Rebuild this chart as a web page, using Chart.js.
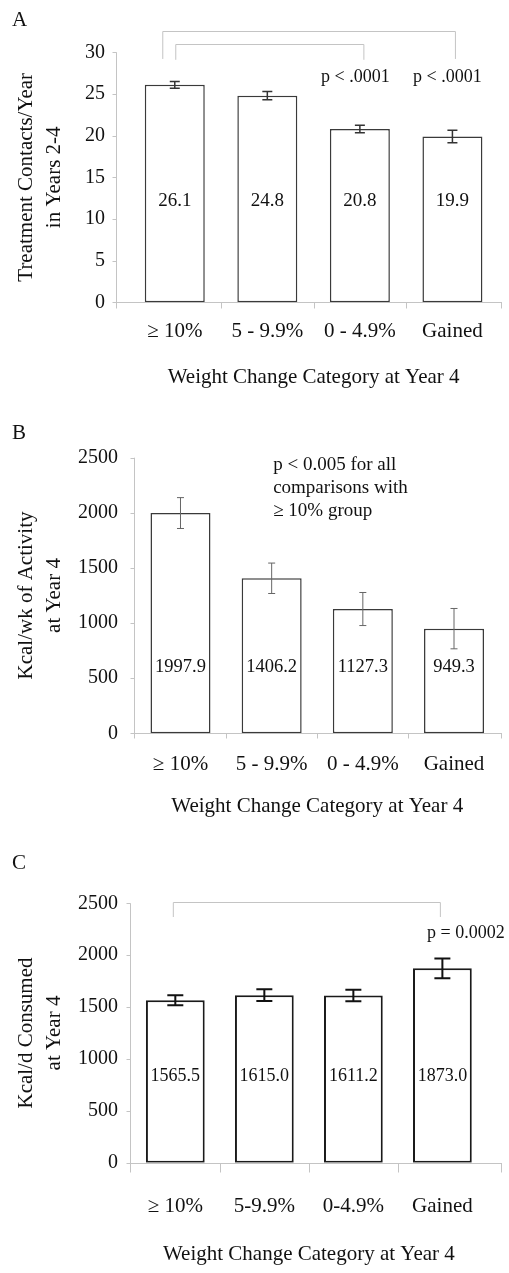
<!DOCTYPE html>
<html>
<head>
<meta charset="utf-8">
<script src="https://cdn.jsdelivr.net/npm/chart.js@4.4.1/dist/chart.umd.min.js"></script>
<style>
  html, body { margin: 0; padding: 0; background: #fff; }
  .painel { position: absolute; left: 0; width: 509px; }
</style>
</head>
<body>
<div class="painel" style="top:0"><canvas id="graficoA" width="509" height="410"></canvas></div>
<div class="painel" style="top:410px"><canvas id="graficoB" width="509" height="420"></canvas></div>
<div class="painel" style="top:830px"><canvas id="graficoC" width="509" height="443"></canvas></div>
<script>
// dados
const categoriasAB = ['≥ 10%', '5 - 9.9%', '0 - 4.9%', 'Gained'];
const categoriasC = ['≥ 10%', '5-9.9%', '0-4.9%', 'Gained'];

const contatos = [26.1, 24.8, 20.8, 19.9];
const contatosErro = [0.4, 0.5, 0.45, 0.75];

const atividade = [1997.9, 1406.2, 1127.3, 949.3];
const atividadeErro = [140, 138, 150, 183];

const consumo = [1565.5, 1615.0, 1611.2, 1873.0];
const consumoErro = [48, 56, 55, 96];

const tituloX = 'Weight Change Category at Year 4';
const fonte = "'Liberation Serif', 'Times New Roman', serif";

Chart.defaults.font.family = fonte;
Chart.defaults.color = '#111';

// eixos, barras de erro, rotulos e chaves
const painelPlugin = {
    id: 'painel',
    beforeDatasetsDraw(chart, args, o) {
        const ctx = chart.ctx;
        const area = chart.chartArea;
        const y = chart.scales.y;
        const meta = chart.getDatasetMeta(0);
        const base = Math.round(area.bottom) + 0.5;
        const ex = Math.round(o.eixoX) + 0.5;
        ctx.save();
        ctx.strokeStyle = '#c4c4c4';
        ctx.lineWidth = 1;
        ctx.beginPath();
        ctx.moveTo(ex, area.top);
        ctx.lineTo(ex, base + o.ext);
        ctx.moveTo(ex, base);
        ctx.lineTo(502, base);
        y.ticks.forEach(t => {
            const py = Math.round(y.getPixelForValue(t.value)) + 0.5;
            ctx.moveTo(ex - 4, py);
            ctx.lineTo(ex, py);
        });
        for (let i = 0; i < meta.data.length - 1; i++) {
            const px = Math.round((meta.data[i].x + meta.data[i + 1].x) / 2) + 0.5;
            ctx.moveTo(px, base);
            ctx.lineTo(px, base + o.ext);
        }
        ctx.moveTo(501.5, base);
        ctx.lineTo(501.5, base + o.ext);
        ctx.stroke();

        // chaves de comparacao
        (o.chaves || []).forEach(c => {
            const x1 = meta.data[c.de].x + (c.dx1 || 0);
            const x2 = meta.data[c.ate].x + (c.dx2 || 0);
            const yt = Math.round(y.getPixelForValue(c.topo)) + 0.5;
            const yp = y.getPixelForValue(c.pe);
            ctx.beginPath();
            ctx.moveTo(x1, yp);
            ctx.lineTo(x1, yt);
            ctx.lineTo(x2, yt);
            ctx.lineTo(x2, yp);
            ctx.stroke();
        });
        ctx.restore();
    },
    afterDatasetsDraw(chart, args, o) {
        const ctx = chart.ctx;
        const y = chart.scales.y;
        const meta = chart.getDatasetMeta(0);
        const valores = chart.data.datasets[0].data;
        ctx.save();

        // barras de erro
        ctx.strokeStyle = o.corErro;
        ctx.lineWidth = o.larguraErro;
        valores.forEach((v, i) => {
            const px = meta.data[i].x;
            const e = o.erros[i];
            const y1 = y.getPixelForValue(v + e);
            const y2 = y.getPixelForValue(v - e);
            ctx.beginPath();
            ctx.moveTo(px, y1);
            ctx.lineTo(px, y2);
            ctx.moveTo(px - o.capa / 2, y1);
            ctx.lineTo(px + o.capa / 2, y1);
            ctx.moveTo(px - o.capa / 2, y2);
            ctx.lineTo(px + o.capa / 2, y2);
            ctx.stroke();
        });

        // valores dentro das barras
        ctx.fillStyle = '#111';
        ctx.textAlign = 'center';
        ctx.textBaseline = 'middle';
        ctx.font = o.tamValor + 'px ' + fonte;
        valores.forEach((v, i) => {
            ctx.fillText(v.toFixed(1), meta.data[i].x, y.getPixelForValue(o.nivelValor));
        });

        // textos de significancia
        ctx.font = o.tamNota + 'px ' + fonte;
        (o.notas || []).forEach(n => {
            ctx.textAlign = n.alinha || 'center';
            const py = y.getPixelForValue(n.y);
            n.linhas.forEach((l, k) => {
                ctx.fillText(l, meta.data[n.barra].x + (n.dx || 0), py + k * 23);
            });
        });

        // letra do painel
        ctx.textAlign = 'left';
        ctx.font = '21px ' + fonte;
        ctx.fillText(o.letra, 12, o.letraY);
        ctx.restore();
    }
};

function criarPainel(id, cfg) {
    const ctx = document.getElementById(id).getContext('2d');
    return new Chart(ctx, {
        type: 'bar',
        data: {
            labels: cfg.categorias,
            datasets: [{
                data: cfg.valores,
                backgroundColor: '#ffffff',
                borderColor: cfg.corBorda,
                borderWidth: cfg.bordaBarra,
                borderSkipped: false,
                categoryPercentage: 1,
                barPercentage: cfg.barPct
            }]
        },
        options: {
            responsive: false,
            animation: false,
            layout: { padding: cfg.padding },
            plugins: {
                legend: { display: false },
                tooltip: { enabled: false },
                painel: cfg.painel
            },
            scales: {
                x: {
                    grid: { display: false, drawTicks: false },
                    border: { display: false },
                    ticks: { padding: cfg.padTickX, font: { size: 21 }, maxRotation: 0, autoSkip: false },
                    title: {
                        display: true,
                        text: tituloX,
                        font: { size: 21, lineHeight: 1.333 },
                        padding: { top: 0, bottom: cfg.padTituloX }
                    },
                    afterFit: s => { s.height = cfg.alturaX; }
                },
                y: {
                    min: 0,
                    max: cfg.max,
                    grid: { display: false, drawTicks: false },
                    border: { display: false },
                    ticks: { stepSize: cfg.passo, padding: cfg.padTickY, font: { size: 20 }, callback: v => String(v) },
                    title: {
                        display: true,
                        text: cfg.tituloY,
                        font: { size: 21, lineHeight: 1.333 },
                        padding: { top: 12, bottom: 0 }
                    },
                    afterFit: s => { s.width = cfg.larguraY; }
                }
            }
        },
        plugins: [painelPlugin]
    });
}

criarPainel('graficoA', {
    categorias: categoriasAB,
    valores: contatos,
    max: 30, passo: 5,
    tituloY: ['Treatment Contacts/Year', 'in Years 2-4'],
    padding: { top: 52.3, right: 10.3, bottom: 0, left: 0 },
    larguraY: 128.5, padTickY: 23.5,
    alturaX: 107.7, padTickX: 17, padTituloX: 19,
    barPct: 0.648, corBorda: '#3a3a3a', bordaBarra: 1.5,
    painel: {
        letra: 'A', letraY: 20, eixoX: 116, ext: 6,
        erros: contatosErro, corErro: '#333', larguraErro: 1.5, capa: 10,
        tamValor: 19, nivelValor: 12.1, tamNota: 18,
        chaves: [
            { de: 0, ate: 3, topo: 32.5, pe: 29.2, dx1: -12, dx2: 3 },
            { de: 0, ate: 2, topo: 31.0, pe: 29.1, dx1: 1, dx2: 4 }
        ],
        notas: [
            { barra: 2, dx: -4.5, y: 27.0, linhas: ['p < .0001'] },
            { barra: 3, dx: -5, y: 27.0, linhas: ['p < .0001'] }
        ]
    }
});

criarPainel('graficoB', {
    categorias: categoriasAB,
    valores: atividade,
    max: 2500, passo: 500,
    tituloY: ['Kcal/wk of Activity', 'at Year 4'],
    padding: { top: 47.7, right: 9.4, bottom: 0, left: 0 },
    larguraY: 134.9, padTickY: 16.9,
    alturaX: 96.7, padTickX: 19, padTituloX: 9.3,
    barPct: 0.658, corBorda: '#3a3a3a', bordaBarra: 1.5,
    painel: {
        letra: 'B', letraY: 23.5, eixoX: 134, ext: 5,
        erros: atividadeErro, corErro: '#666', larguraErro: 1, capa: 7,
        tamValor: 18.5, nivelValor: 600, tamNota: 19,
        notas: [
            { barra: 1, dx: 1.5, y: 2434, alinha: 'left', linhas: ['p < 0.005 for all', 'comparisons with', '≥ 10% group'] }
        ]
    }
});

criarPainel('graficoC', {
    categorias: categoriasC,
    valores: consumo,
    max: 2500, passo: 500,
    tituloY: ['Kcal/d Consumed', 'at Year 4'],
    padding: { top: 73.3, right: 22.1, bottom: 0, left: 0 },
    larguraY: 130.8, padTickY: 12.8,
    alturaX: 110.3, padTickX: 31.4, padTituloX: 4.7,
    barPct: 0.66, corBorda: '#1a1a1a', bordaBarra: 2,
    painel: {
        letra: 'C', letraY: 33.5, eixoX: 130, ext: 9,
        erros: consumoErro, corErro: '#111', larguraErro: 2, capa: 16,
        tamValor: 18, nivelValor: 830, tamNota: 18,
        chaves: [
            { de: 0, ate: 3, topo: 2515, pe: 2368, dx1: -2, dx2: -2 }
        ],
        notas: [
            { barra: 3, dx: 23.5, y: 2211, linhas: ['p = 0.0002'] }
        ]
    }
});
</script>
</body>
</html>
